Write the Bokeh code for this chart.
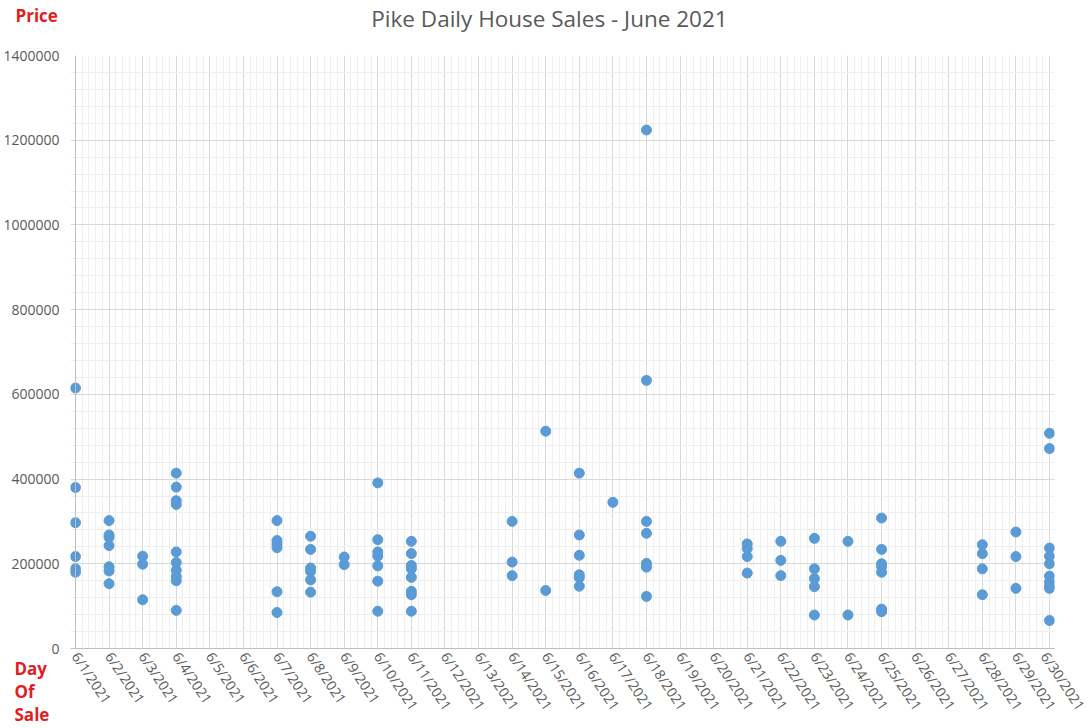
from bokeh.plotting import figure
from bokeh.models import ColumnDataSource, FixedTicker, BasicTickFormatter, Label, Span
from bokeh.embed import file_html
from bokeh.resources import INLINE

# ---------------- data ----------------
tick_labels = ["6/1/2021", "6/2/2021", "6/3/2021", "6/4/2021", "6/5/2021", "6/6/2021",
               "6/7/2021", "6/8/2021", "6/9/2021", "6/10/2021", "6/11/2021", "6/12/2021",
               "6/13/2021", "6/14/2021", "6/15/2021", "6/16/2021", "6/17/2021", "6/18/2021",
               "6/19/2021", "6/20/2021", "6/21/2021", "6/22/2021", "6/23/2021", "6/24/2021",
               "6/25/2021", "6/26/2021", "6/27/2021", "6/28/2021", "6/29/2021", "6/30/2021"]

y_ticks = [0, 200000, 400000, 600000, 800000, 1000000, 1200000, 1400000]

sale_day = (
    [1] * 6 + [2] * 7 + [3] * 3 + [4] * 10 + [7] * 6 + [8] * 6 + [9] * 2 + [10] * 7 +
    [11] * 8 + [14] * 3 + [15] * 2 + [16] * 6 + [17] * 1 + [18] * 7 + [21] * 4 +
    [22] * 3 + [23] * 5 + [24] * 2 + [25] * 7 + [28] * 4 + [29] * 3 + [30] * 10
)

price = [
    # 6/1
    615000, 380000, 297000, 217000, 188000, 180000,
    # 6/2
    302000, 268000, 262000, 243000, 193000, 183000, 153000,
    # 6/3
    218000, 199000, 115000,
    # 6/4
    414000, 381000, 349000, 340000, 228000, 203000, 185000, 170000, 160000, 90000,
    # 6/7
    302000, 255000, 246000, 238000, 134000, 85000,
    # 6/8
    265000, 234000, 190000, 182000, 162000, 133000,
    # 6/9
    216000, 198000,
    # 6/10
    391000, 257000, 228000, 218000, 195000, 159000, 88000,
    # 6/11
    253000, 224000, 196000, 188000, 168000, 135000, 127000, 88000,
    # 6/14
    300000, 204000, 172000,
    # 6/15
    513000, 137000,
    # 6/16
    414000, 268000, 220000, 174000, 167000, 147000,
    # 6/17
    345000,
    # 6/18
    1224000, 633000, 300000, 272000, 201000, 192000, 123000,
    # 6/21
    247000, 236000, 217000, 178000,
    # 6/22
    253000, 208000, 172000,
    # 6/23
    260000, 188000, 165000, 146000, 79000,
    # 6/24
    253000, 79000,
    # 6/25
    308000, 234000, 200000, 193000, 180000, 93000, 87000,
    # 6/28
    245000, 224000, 188000, 127000,
    # 6/29
    275000, 217000, 142000,
    # 6/30
    508000, 472000, 237000, 218000, 200000, 171000, 157000, 147000, 142000, 66000,
]

title_text = "Pike Daily House Sales - June 2021"
y_title_text = "Price"
x_title_text = "Day\nOf\nSale"

# ---------------- figure ----------------
W, H = 1089, 728
FL, FT, FR, FB = 69, 55, 1055, 648          # plot frame edges on the page
PAD = 5 / 33.655                            # half a marker, so edge markers are not cut
p = figure(width=W, height=H, output_backend="svg", toolbar_location=None,
           x_range=(1 - PAD, 30 + PAD), y_range=(0, 1400000),
           min_border_left=FL, min_border_right=W - FR, min_border_top=FT, min_border_bottom=H - FB)
p.outline_line_color = None
p.background_fill_color = "white"
p.border_fill_color = "white"
p.title = None

src = ColumnDataSource(dict(x=sale_day, y=price))
p.scatter("x", "y", source=src, size=10, fill_color="#5b9bd5", line_color="#5b9bd5")

# axes
xt = list(range(1, 31))
x_minor = [d + k * 0.2 for d in range(1, 30) for k in range(1, 5)]
p.xaxis.ticker = FixedTicker(ticks=xt, minor_ticks=x_minor)
p.xaxis.major_label_overrides = {i + 1: lab for i, lab in enumerate(tick_labels)}
p.xaxis.major_label_orientation = -0.98
p.yaxis.ticker = FixedTicker(ticks=y_ticks, minor_ticks=list(range(0, 1400001, 40000)))
p.yaxis.formatter = BasicTickFormatter(use_scientific=False)

for ax in (p.xaxis, p.yaxis):
    ax.axis_line_color = "#bfbfbf"
    ax.axis_line_width = 1
    ax.major_tick_line_color = None
    ax.minor_tick_line_color = None
    ax.major_tick_out = 0
    ax.major_tick_in = 0
    ax.minor_tick_out = 0
    ax.minor_tick_in = 0
    ax.major_label_text_font = "Open Sans"
    ax.major_label_text_font_size = "14px"
    ax.major_label_text_color = "#595959"
p.yaxis.axis_line_color = None
p.yaxis.major_label_standoff = 11
p.xaxis.major_label_standoff = 5

for g in (p.xgrid, p.ygrid):
    g.grid_line_color = "#d9d9d9"
    g.minor_grid_line_color = "#efefef"

# 6/1 vertical line plays the role of the value axis line
p.add_layout(Span(location=1, dimension="height", line_color="#bfbfbf", line_width=1))

# ---- texts in side panels (screen units: x from panel left, y up from slot bottom) ----
# above panel: first slot (next to the frame) = chart title, second slot = "Price"
title_lbl = Label(x=548 - FL, y=FT - 18, x_units="screen", y_units="screen",
                  text=title_text, text_font="Open Sans", text_font_size="22.5px",
                  text_color="#595959", text_align="center", text_baseline="middle")
p.add_layout(title_lbl, "above")

red = dict(text_font="Open Sans", text_font_size="17px", text_font_style="bold",
           text_color="#e0201f", text_align="left")
price_lbl = Label(x=14 - FL, y=FT - 30 - 16, x_units="screen", y_units="screen",
                  text=y_title_text, text_baseline="middle", **red)
p.add_layout(price_lbl, "above")

# right panel: "Day Of Sale" block (x from the right panel's left edge, y up from frame bottom)
day_lbl = Label(x=15 - FR, y=FB - 691, x_units="screen", y_units="screen",
                text=x_title_text, text_baseline="middle", text_line_height=1.0, **red)
p.add_layout(day_lbl, "right")

open("out.html", "w").write(file_html(p, INLINE))
